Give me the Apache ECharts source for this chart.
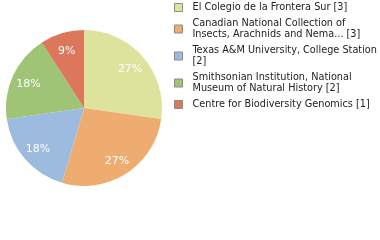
<!DOCTYPE html>
<html><head><meta charset="utf-8">
<script src="https://cdn.jsdelivr.net/npm/echarts@6/dist/echarts.min.js"></script>
<style>html,body{margin:0;padding:0;background:#fff}#c{width:380px;height:240px}</style>
</head><body><div id="c"></div>
<script>
var categories = [
  "El Colegio de la Frontera Sur [3]",
  "Canadian National Collection of\nInsects, Arachnids and Nema... [3]",
  "Texas A&M University, College Station\n[2]",
  "Smithsonian Institution, National\nMuseum of Natural History [2]",
  "Centre for Biodiversity Genomics [1]"
];
var values = [3, 3, 2, 2, 1];
var colors = ["#dde39d", "#eeac70", "#9dbbdf", "#9fc476", "#dc775b"];

var total = values.reduce(function(a,b){return a+b;},0);
var data = categories.map(function(n,i){return {name:n, value:values[i], itemStyle:{color:colors[i]}};});
var labelData = categories.map(function(n,i){return {name:n, value:values[i]};});

var chart = echarts.init(document.getElementById('c'), null, {renderer:'canvas'});
chart.setOption({
  animation:false,
  legend:{
    orient:'vertical', left:174, top:2, padding:0,
    itemWidth:8, itemHeight:8, itemGap:5,
    icon:'rect',
    selectedMode:false,
    textStyle:{fontFamily:'DejaVu Sans Condensed', fontSize:10.8, lineHeight:11, color:'#222', padding:[0,0,0,5]},
    data:categories.map(function(n,i){return {name:n, itemStyle:{color:colors[i], borderColor:'#8a8a8a', borderWidth:1}};})
  },
  series:[
    {type:'pie', center:[84,108], radius:[0,78], startAngle:90, clockwise:true,
     label:{show:false}, labelLine:{show:false}, silent:true, data:data},
    {type:'pie', center:[84,108], radius:[38,78], startAngle:90, clockwise:true,
     silent:true, itemStyle:{color:'rgba(0,0,0,0)'},
     label:{show:true, position:'inside', color:'#fff', fontFamily:'DejaVu Sans', fontSize:11, offset:[0,1.5],
       formatter:function(p){return Math.round(p.value/total*100)+'%';}},
     labelLine:{show:false}, data:labelData, legendHoverLink:false}
  ]
});
</script></body></html>
